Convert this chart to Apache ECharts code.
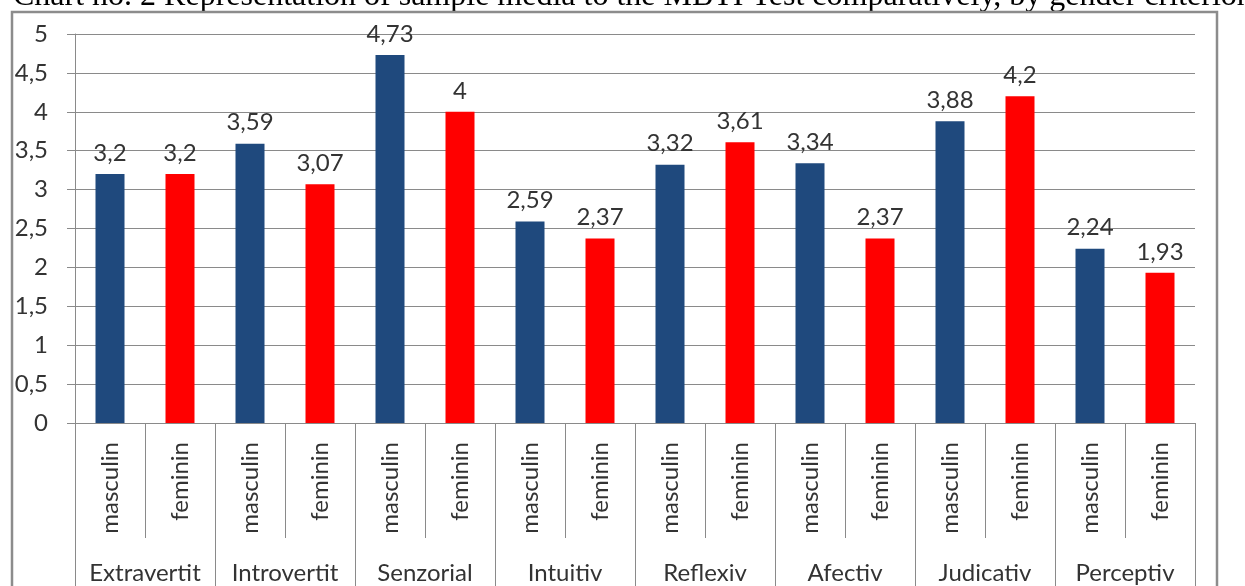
<!DOCTYPE html>
<html>
<head>
<meta charset="utf-8">
<script src="https://cdn.jsdelivr.net/npm/echarts@6/dist/echarts.min.js"></script>
<style>
html,body{margin:0;padding:0;background:#fff;}
#chart{width:1245px;height:586px;}
</style>
</head>
<body>
<div id="chart"></div>
<script>
var titleText = 'Chart no. 2 Representation of sample media to the MBTI Test comparatively, by gender criterion';
var groups = ['Extravertit','Introvertit','Senzorial','Intuitiv','Reflexiv','Afectiv','Judicativ','Perceptiv'];
var genders = ['masculin','feminin'];
var masculinValues = [3.2, 3.59, 4.73, 2.59, 3.32, 3.34, 3.88, 2.24];
var femininValues = [3.2, 3.07, 4, 2.37, 3.61, 2.37, 4.2, 1.93];
var yTicks = [0, 0.5, 1, 1.5, 2, 2.5, 3, 3.5, 4, 4.5, 5];

var BLUE = '#1F497D', RED = '#FF0000', GRAY = '#8a8a8a', TXT = '#333333';
var FONT = 'Lato';
var FS = 24;

var cats = [], data = [];
groups.forEach(function (g, i) {
  cats.push(genders[0]); data.push({ value: masculinValues[i], itemStyle: { color: BLUE } });
  cats.push(genders[1]); data.push({ value: femininValues[i], itemStyle: { color: RED } });
});
function comma(v) { return String(v).replace('.', ','); }

var chart = echarts.init(document.getElementById('chart'), null, { renderer: 'canvas' });
chart.setOption({
  animation: false,
  backgroundColor: '#fff',
  grid: { left: 75, right: 50, top: 34, bottom: 163, containLabel: false },
  graphic: [
    { type: 'rect', shape: { x: 12, y: 12, width: 1205, height: 600 }, style: { fill: 'none', stroke: '#8c8c8c', lineWidth: 2.5 }, z: 100 },
    { type: 'text', left: 13, top: -19, style: { text: titleText, font: '32px "Liberation Serif"', fill: '#000' }, z: 99 }
  ],
  xAxis: [
    {
      type: 'category', data: cats, position: 'bottom',
      axisLine: { show: true, lineStyle: { color: GRAY, width: 1 } },
      axisTick: { show: true, length: 115, interval: 0, lineStyle: { color: GRAY } },
      axisLabel: { interval: 0, rotate: 90, margin: 19, fontFamily: FONT, fontSize: FS, color: TXT }
    },
    {
      type: 'category', data: groups, position: 'bottom',
      axisLine: { show: false },
      axisTick: { show: true, length: 200, interval: 0, lineStyle: { color: GRAY } },
      axisLabel: { interval: 0, margin: 138, fontFamily: FONT, fontSize: FS, color: TXT }
    }
  ],
  yAxis: {
    type: 'value', min: 0, max: 5, interval: 0.5,
    axisLine: { show: true, lineStyle: { color: GRAY } },
    axisTick: { show: true, length: 8, lineStyle: { color: GRAY } },
    splitLine: { show: true, lineStyle: { color: GRAY } },
    axisLabel: { margin: 27, fontFamily: FONT, fontSize: FS, color: TXT, formatter: function (v) { return comma(v); } }
  },
  series: [{
    type: 'bar', xAxisIndex: 0, data: data, barWidth: 29,
    label: { show: true, position: 'top', distance: 9, fontFamily: FONT, fontSize: FS, color: TXT, formatter: function (p) { return comma(p.value); } }
  }]
});
</script>
</body>
</html>
